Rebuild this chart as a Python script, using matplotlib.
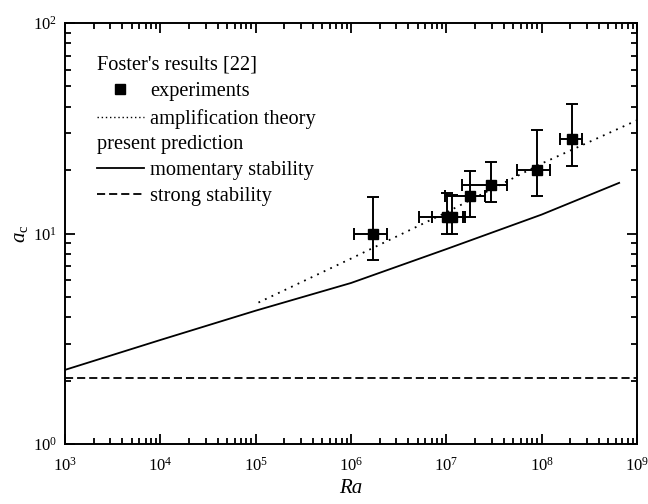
import numpy as np
import matplotlib.pyplot as plt
from matplotlib.lines import Line2D

plt.rcParams['font.family'] = ['Liberation Serif', 'DejaVu Serif']
plt.rcParams['mathtext.fontset'] = 'custom'
plt.rcParams['mathtext.rm'] = 'Liberation Serif'
plt.rcParams['mathtext.it'] = 'Liberation Serif:italic'

# Foster's experiments
ra_exp = [1.71e6, 1.01e7, 1.14e7, 1.77e7, 2.92e7, 8.87e7, 2.10e8]
ac_exp = [10.0, 12.0, 12.0, 15.0, 17.0, 20.0, 28.0]
ra_lo = [1.08e6, 5.16e6, 7.03e6, 9.7e6, 1.47e7, 5.47e7, 1.56e8]
ra_hi = [2.37e6, 1.50e7, 1.57e7, 2.55e7, 4.37e7, 1.22e8, 2.63e8]
ac_lo = [7.48, 10.0, 10.0, 12.0, 14.1, 15.0, 20.9]
ac_hi = [14.9, 15.5, 15.2, 19.9, 21.9, 31.0, 41.0]

# amplification theory
ra_amp = [1.07e5, 1e6, 1e7, 1e8, 1e9]
ac_amp = [4.7, 7.6, 12.6, 21.5, 34.5]

# present prediction, momentary stability
ra_mom = [1e3, 1e4, 1e5, 1e6, 1e7, 1e8, 6.5e8]
ac_mom = [2.25, 3.12, 4.3, 5.82, 8.43, 12.3, 17.4]

# present prediction, strong stability
ra_strong = [1e3, 1e9]
ac_strong = [2.07, 2.07]

fig = plt.figure(figsize=(6.48, 5.04), dpi=100)
fig.subplots_adjust(left=0.1003, right=0.983, top=0.9544, bottom=0.119)
ax = fig.gca()

ra_exp = np.array(ra_exp)
ac_exp = np.array(ac_exp)
xerr = [ra_exp - np.array(ra_lo), np.array(ra_hi) - ra_exp]
yerr = [ac_exp - np.array(ac_lo), np.array(ac_hi) - ac_exp]

ax.errorbar(ra_exp, ac_exp, xerr=xerr, yerr=yerr, fmt='s', color='black',
            markersize=7, elinewidth=1.4, capsize=4.5, capthick=1.4)
ax.plot(ra_amp, ac_amp, color='black', linestyle=(0, (1, 3)), linewidth=1.3)
ax.plot(ra_mom, ac_mom, color='black', linestyle='-', linewidth=1.3)
ax.plot(ra_strong, ac_strong, color='black', linestyle=(0, (4.5, 2.2)), linewidth=1.3)

ax.set_xscale('log')
ax.set_yscale('log')
ax.set_xlim(1e3, 1e9)
ax.set_ylim(1, 100)
ax.set_xticks([1e3, 1e4, 1e5, 1e6, 1e7, 1e8, 1e9])

ax.tick_params(which='both', direction='in', top=True, right=True, labelsize=12, width=1.3)
ax.tick_params(which='major', length=7, pad=6)
ax.tick_params(axis='x', which='major', pad=9)
ax.tick_params(which='minor', length=4)
for s in ax.spines.values():
    s.set_linewidth(1.4)

ax.set_xlabel('Ra', fontsize=15, fontstyle='italic', labelpad=3)
ax.set_ylabel(r'$a_{\rm c}$', fontsize=15, labelpad=2)

h1 = [Line2D([], [], marker='s', color='black', linestyle='none', markersize=7),
      Line2D([], [], color='black', linestyle=(0, (1, 2)), linewidth=1.0)]
leg1 = ax.legend(h1, ['experiments', 'amplification theory'], title="Foster's results [22]",
                 alignment='left', loc='upper left', bbox_to_anchor=(0.0554, 0.923),
                 frameon=False, fontsize=14.7, title_fontsize=14.7, handlelength=2.3,
                 handletextpad=0.3, labelspacing=0.37, borderpad=0, borderaxespad=0)
ax.add_artist(leg1)
h2 = [Line2D([], [], color='black', linestyle='-', linewidth=1.3),
      Line2D([], [], color='black', linestyle=(0, (4.5, 2.2)), linewidth=1.3)]
ax.legend(h2, ['momentary stability', 'strong stability'], title='present prediction',
          alignment='left', loc='upper left', bbox_to_anchor=(0.0554, 0.733),
          frameon=False, fontsize=14.7, title_fontsize=14.7, handlelength=2.3,
          handletextpad=0.3, labelspacing=0.32, borderpad=0, borderaxespad=0)

plt.savefig('out.png')
